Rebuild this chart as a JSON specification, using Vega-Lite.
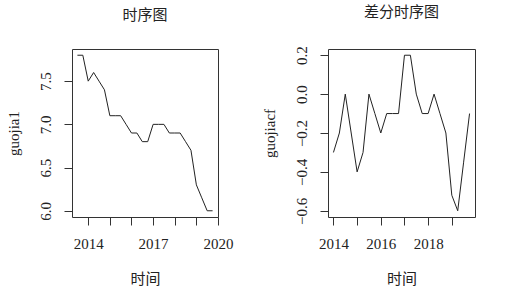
{
  "$schema": "https://vega.github.io/schema/vega-lite/v6.json",
  "padding": {"left": 5, "top": 4, "right": 5, "bottom": 5},
  "background": "white",
  "spacing": 27,
  "datasets": {
    "level": [
      {"t": 2013.5, "v": 7.8}, {"t": 2013.75, "v": 7.8}, {"t": 2014.0, "v": 7.5}, {"t": 2014.25, "v": 7.6},
      {"t": 2014.5, "v": 7.5}, {"t": 2014.75, "v": 7.4}, {"t": 2015.0, "v": 7.1}, {"t": 2015.25, "v": 7.1},
      {"t": 2015.5, "v": 7.1}, {"t": 2015.75, "v": 7.0}, {"t": 2016.0, "v": 6.9}, {"t": 2016.25, "v": 6.9},
      {"t": 2016.5, "v": 6.8}, {"t": 2016.75, "v": 6.8}, {"t": 2017.0, "v": 7.0}, {"t": 2017.25, "v": 7.0},
      {"t": 2017.5, "v": 7.0}, {"t": 2017.75, "v": 6.9}, {"t": 2018.0, "v": 6.9}, {"t": 2018.25, "v": 6.9},
      {"t": 2018.5, "v": 6.8}, {"t": 2018.75, "v": 6.7}, {"t": 2019.0, "v": 6.3}, {"t": 2019.25, "v": 6.15},
      {"t": 2019.5, "v": 6.0}, {"t": 2019.75, "v": 6.0}
    ],
    "diff": [
      {"t": 2014.0, "v": -0.3}, {"t": 2014.25, "v": -0.2}, {"t": 2014.5, "v": 0.0}, {"t": 2014.75, "v": -0.2},
      {"t": 2015.0, "v": -0.4}, {"t": 2015.25, "v": -0.3}, {"t": 2015.5, "v": 0.0}, {"t": 2015.75, "v": -0.1},
      {"t": 2016.0, "v": -0.2}, {"t": 2016.25, "v": -0.1}, {"t": 2016.5, "v": -0.1}, {"t": 2016.75, "v": -0.1},
      {"t": 2017.0, "v": 0.2}, {"t": 2017.25, "v": 0.2}, {"t": 2017.5, "v": 0.0}, {"t": 2017.75, "v": -0.1},
      {"t": 2018.0, "v": -0.1}, {"t": 2018.25, "v": 0.0}, {"t": 2018.5, "v": -0.1}, {"t": 2018.75, "v": -0.2},
      {"t": 2019.0, "v": -0.52}, {"t": 2019.25, "v": -0.6}, {"t": 2019.5, "v": -0.35}, {"t": 2019.75, "v": -0.1}
    ]
  },
  "config": {
    "view": {"stroke": "#333333", "strokeWidth": 1},
    "axis": {
      "domain": false,
      "grid": false,
      "tickColor": "#333333",
      "tickSize": 8,
      "labelColor": "#222222",
      "titleColor": "#222222",
      "labelFont": "Liberation Serif",
      "labelFontSize": 15,
      "titleFontSize": 15,
      "titleFontWeight": "normal",
      "labelFlush": false,
      "labelOverlap": false,
      "labelBound": false
    },
    "axisX": {"labelPadding": 11, "titlePadding": 20, "titleFont": "Noto Sans CJK SC"},
    "axisY": {"labelAngle": 270, "labelAlign": "center", "labelBaseline": "alphabetic", "labelPadding": 14, "titlePadding": 17, "titleFont": "Liberation Serif"},
    "title": {"font": "Noto Sans CJK SC", "fontSize": 15, "fontWeight": "normal", "color": "#222222", "offset": 26, "anchor": "middle"}
  },
  "hconcat": [
    {
      "width": 146,
      "height": 168,
      "title": "时序图",
      "data": {"name": "level"},
      "mark": {"type": "line", "color": "#222222", "strokeWidth": 1},
      "encoding": {
        "x": {
          "field": "t", "type": "quantitative",
          "scale": {"domain": [2013.25, 2020], "nice": false, "zero": false},
          "axis": {"title": "时间", "values": [2014, 2015, 2016, 2017, 2018, 2019, 2020], "format": "d",
                   "labelExpr": "(datum.value - 2014) % 3 == 0 ? datum.label : ''"}
        },
        "y": {
          "field": "v", "type": "quantitative",
          "scale": {"domain": [5.928, 7.872], "nice": false, "zero": false},
          "axis": {"title": "guojia1", "values": [6, 6.5, 7, 7.5], "format": ".1f"}
        }
      }
    },
    {
      "width": 147,
      "height": 168,
      "title": "差分时序图",
      "data": {"name": "diff"},
      "mark": {"type": "line", "color": "#222222", "strokeWidth": 1},
      "encoding": {
        "x": {
          "field": "t", "type": "quantitative",
          "scale": {"domain": [2013.77, 2019.98], "nice": false, "zero": false},
          "axis": {"title": "时间", "values": [2014, 2015, 2016, 2017, 2018, 2019], "format": "d",
                   "labelExpr": "(datum.value - 2014) % 2 == 0 ? datum.label : ''"}
        },
        "y": {
          "field": "v", "type": "quantitative",
          "scale": {"domain": [-0.632, 0.232], "nice": false, "zero": false},
          "axis": {"title": "guojiacf", "values": [-0.6, -0.4, -0.2, 0, 0.2], "format": ".1f"}
        }
      }
    }
  ]
}
